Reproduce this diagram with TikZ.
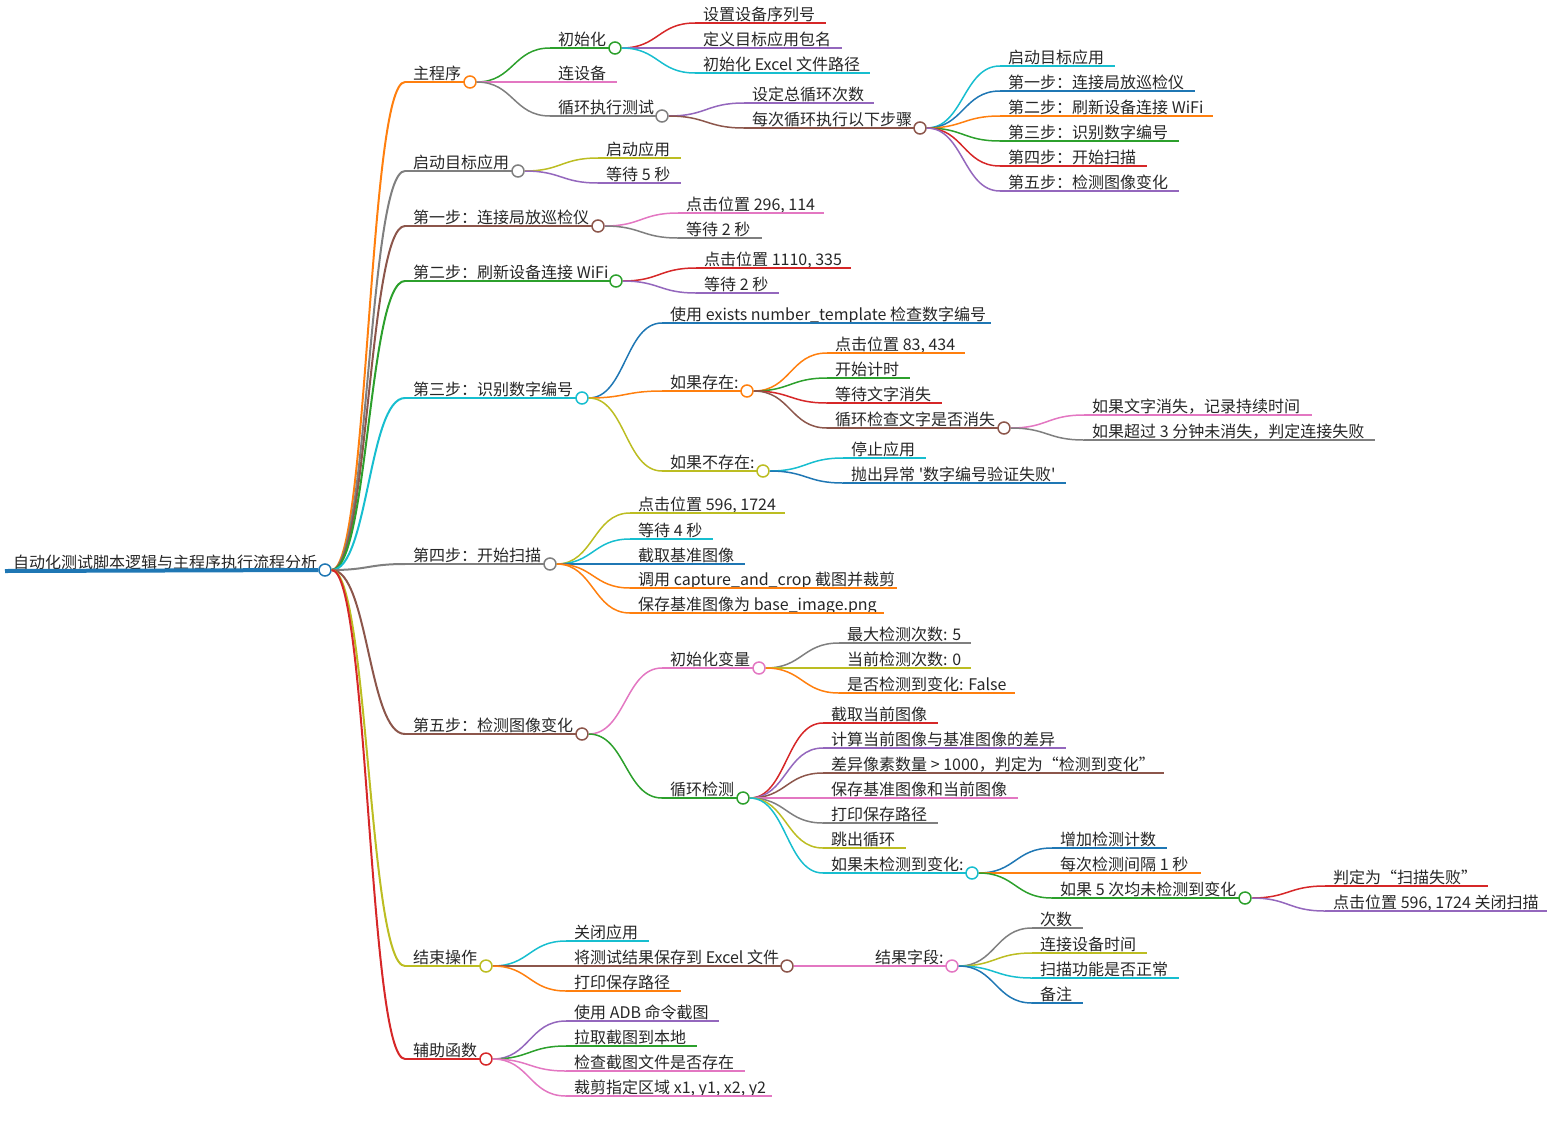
\documentclass[tikz,border=0pt]{standalone}
\usepackage{fontspec}
\setmainfont[Ligatures=TeXOff]{Noto Sans CJK SC}
\usetikzlibrary{calc}
\definecolor{cblue}{HTML}{1F77B4}
\definecolor{corange}{HTML}{FF7F0E}
\definecolor{cgreen}{HTML}{2CA02C}
\definecolor{cred}{HTML}{D62728}
\definecolor{cpurple}{HTML}{9467BD}
\definecolor{cbrown}{HTML}{8C564B}
\definecolor{cpink}{HTML}{E377C2}
\definecolor{cgray}{HTML}{7F7F7F}
\definecolor{colive}{HTML}{BCBD22}
\definecolor{ccyan}{HTML}{17BECF}
\begin{document}
\begin{tikzpicture}[
        x=1pt,y=-1pt,
        knob/.style={circle,fill=white,line width=1.5pt,inner sep=0pt,minimum size=12pt},
        item/.style={anchor=south west,inner xsep=8pt,inner ysep=0pt,align=flush left,text height=14pt,text depth=2pt,font=\fontsize{16pt}{18pt}\selectfont,text=black!85},
        uline/.style={line width=1.5pt},
        from droot/.style={line width=2pt}
      ]
      \useasboundingbox (0,0) rectangle (1552,1130);
      % dots on the branching items
      \foreach \name/\col/\px/\py in {
        droot/cblue/325/570, dmain/corange/470/82, dstart/cgray/518/171, done/cbrown/598/226,
        dtwo/cgreen/616/281, dthree/ccyan/582/398, dfour/cgray/550/564, dfive/cbrown/582/734,
        dend/colive/486/966, dhelp/cred/486/1059, dinit/cgreen/615/48, dloop/cgray/662/116,
        deach/cbrown/920/128, dyes/corange/747/391, dno/colive/763/471, dcheck/cbrown/1004/428,
        dvars/cpink/759/668, ddetect/cgreen/743/798, dmiss/ccyan/972/873, dfail/cgreen/1245/898,
        dsave/cbrown/787/966, dfields/cpink/952/966}{
        \node[knob,draw=\col] (\name) at (\px,\py) {};
      }
      \node[item,text width=303pt] (root) at (5,571) {\mbox{自动化测试脚本逻辑与主程序执行流程分析}};
      \draw[cblue,line width=4pt] (root.south west) -- (droot.west);
      % name/parent dot/colour/line start/line end/line y/text
      \foreach \name/\parent/\col/\xa/\xb/\ypos/\txt in {
        main/droot/corange/405/464/82/主程序,
        start/droot/cgray/405/512/171/启动目标应用,
        one/droot/cbrown/405/592/226/第一步：连接局放巡检仪,
        two/droot/cgreen/405/610/281/第二步：刷新设备连接 WiFi,
        three/droot/ccyan/405/576/398/第三步：识别数字编号,
        four/droot/cgray/405/544/564/第四步：开始扫描,
        five/droot/cbrown/405/576/734/第五步：检测图像变化,
        finish/droot/colive/405/480/966/结束操作,
        help/droot/cred/405/480/1059/辅助函数,
        init/dmain/cgreen/550/609/48/初始化,
        conn/dmain/cpink/550/617/82/连设备,
        loop/dmain/cgray/550/656/116/循环执行测试,
        serial/dinit/cred/695/826/23/设置设备序列号,
        pkg/dinit/cpurple/695/842/48/定义目标应用包名,
        excel/dinit/ccyan/695/870/73/初始化 Excel 文件路径,
        total/dloop/cpurple/744/874/103/设定总循环次数,
        each/dloop/cbrown/744/914/128/每次循环执行以下步骤,
        estart/deach/ccyan/1000/1115/66/启动目标应用,
        eone/deach/cblue/1000/1195/91/第一步：连接局放巡检仪,
        etwo/deach/corange/1000/1213/116/第二步：刷新设备连接 WiFi,
        ethree/deach/cgreen/1000/1179/141/第三步：识别数字编号,
        efour/deach/cred/1000/1147/166/第四步：开始扫描,
        efive/deach/cpurple/1000/1179/191/第五步：检测图像变化,
        sapp/dstart/colive/598/681/158/启动应用,
        swait/dstart/cpurple/598/681/183/等待 5 秒,
        oclick/done/cpink/678/824/213/{点击位置 296, 114},
        owait/done/cgray/678/762/238/等待 2 秒,
        tclick/dtwo/cred/696/851/268/{点击位置 1110, 335},
        twait/dtwo/cpurple/696/779/293/等待 2 秒,
        exists/dthree/cblue/662/991/323/使用 exists number\_template 检查数字编号,
        yes/dthree/corange/662/741/391/如果存在:,
        no/dthree/colive/662/757/471/如果不存在:,
        yclick/dyes/corange/827/965/353/{点击位置 83, 434},
        ytimer/dyes/cgreen/827/910/378/开始计时,
        ywait/dyes/cred/827/942/403/等待文字消失,
        check/dyes/cbrown/827/998/428/循环检查文字是否消失,
        gone/dcheck/cpink/1084/1312/415/如果文字消失，记录持续时间,
        late/dcheck/cgray/1084/1375/440/如果超过 3 分钟未消失，判定连接失败,
        stop/dno/ccyan/843/926/458/停止应用,
        raise/dno/cblue/843/1066/483/抛出异常 '数字编号验证失败',
        fclick/dfour/colive/630/785/513/{点击位置 596, 1724},
        fwait/dfour/ccyan/630/713/539/等待 4 秒,
        fgrab/dfour/cblue/630/745/564/截取基准图像,
        fcrop/dfour/corange/630/897/588/调用 capture\_and\_crop 截图并裁剪,
        fsave/dfour/corange/630/884/613/保存基准图像为 base\_image.png,
        vars/dfive/cpink/662/753/668/初始化变量,
        detect/dfive/cgreen/662/737/798/循环检测,
        vmax/dvars/cgray/839/971/643/最大检测次数: 5,
        vcur/dvars/colive/839/971/668/当前检测次数: 0,
        vflag/dvars/corange/839/1015/693/是否检测到变化: False,
        dgrab/ddetect/cred/823/938/723/截取当前图像,
        ddiff/ddetect/cpurple/823/1066/748/计算当前图像与基准图像的差异,
        dcount/ddetect/cbrown/823/1164/773/差异像素数量 > 1000，判定为“检测到变化”,
        dkeep/ddetect/cpink/823/1018/798/保存基准图像和当前图像,
        dprint/ddetect/cgray/823/938/823/打印保存路径,
        dbreak/ddetect/colive/823/906/848/跳出循环,
        miss/ddetect/ccyan/823/966/873/如果未检测到变化:,
        madd/dmiss/cblue/1052/1167/848/增加检测计数,
        mgap/dmiss/corange/1052/1201/873/每次检测间隔 1 秒,
        mfive/dmiss/cgreen/1052/1239/898/如果 5 次均未检测到变化,
        bad/dfail/cred/1325/1488/886/判定为“扫描失败”,
        off/dfail/cpurple/1325/1547/911/{点击位置 596, 1724 关闭扫描},
        close/dend/ccyan/566/649/941/关闭应用,
        save/dend/cbrown/566/781/966/将测试结果保存到 Excel 文件,
        path/dend/corange/566/681/991/打印保存路径,
        fields/dsave/cpink/867/946/966/结果字段:,
        times/dfields/cgray/1032/1083/928/次数,
        ctime/dfields/colive/1032/1147/953/连接设备时间,
        scan/dfields/ccyan/1032/1179/978/扫描功能是否正常,
        note/dfields/cblue/1032/1083/1003/备注,
        adb/dhelp/cpurple/566/719/1021/使用 ADB 命令截图,
        pull/dhelp/cgreen/566/697/1046/拉取截图到本地,
        exist/dhelp/cpink/566/745/1071/检查截图文件是否存在,
        cut/dhelp/cpink/566/772/1096/{裁剪指定区域 x1, y1, x2, y2}}{
        \node[item,text width={(\xb-\xa-16)*1pt}] (\name) at (\xa,\ypos) {\mbox{\txt}};
        \draw[uline,from \parent/.try,\col] (\name.south west) -- (\name.south east);
        \draw[uline,from \parent/.try,\col] let \p1=(\parent.east),\p2=(\name.south west),\n1={0.5*(\x2-\x1)} in
          (\p1) .. controls +(\n1,0) and +(-\n1,0) .. (\p2);
      }
\end{tikzpicture}
\end{document}
